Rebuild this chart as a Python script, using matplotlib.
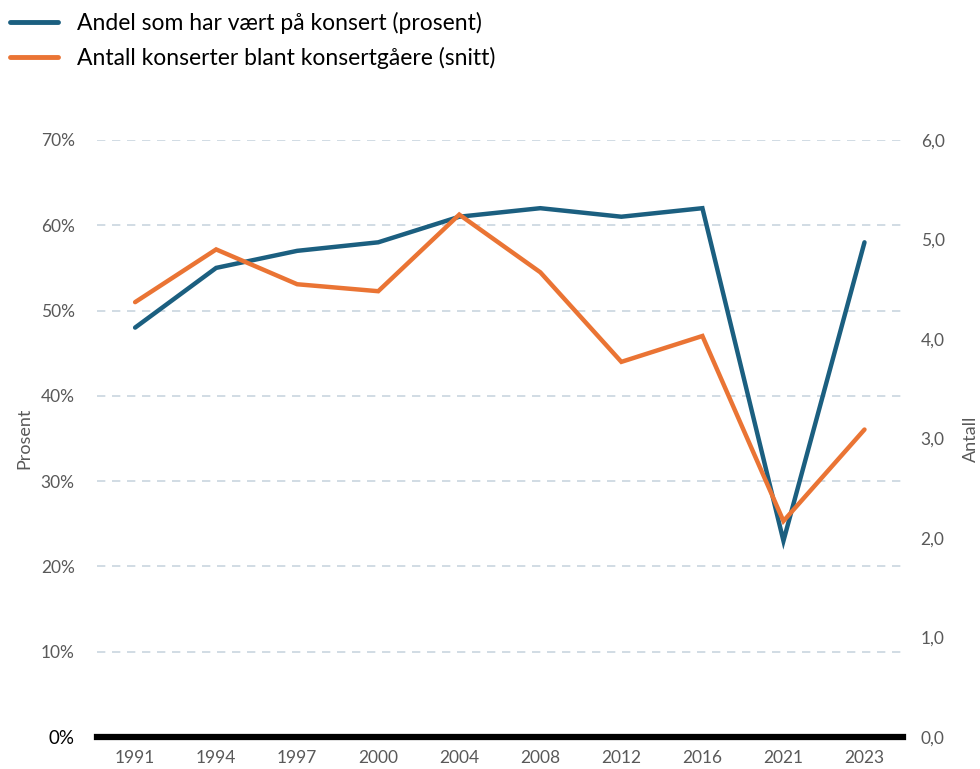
import numpy as np
import matplotlib.pyplot as plt
from matplotlib.lines import Line2D

plt.rcParams['font.family'] = ['Lato', 'DejaVu Sans']

years = ['1991', '1994', '1997', '2000', '2004', '2008', '2012', '2016', '2021', '2023']
andel = [48, 55, 57, 58, 61, 62, 61, 62, 23, 58]  # prosent
antall = [4.37, 4.90, 4.55, 4.48, 5.25, 4.67, 3.77, 4.03, 2.17, 3.09]  # snitt

blue = '#1b5f80'
orange = '#ea7434'
grey = '#595959'

x = np.arange(len(years))

fig = plt.figure(figsize=(9.8, 7.69), dpi=100)
ax = fig.add_axes([0.099, 0.0416, 0.822, 0.7764])
ax2 = ax.twinx()

ax.plot(x, andel, color=blue, lw=3.2, solid_capstyle='round', solid_joinstyle='miter')
ax2.plot(x, antall, color=orange, lw=3.2, solid_capstyle='round', solid_joinstyle='miter')

ax.set_xlim(-0.47, 9.47)
ax.set_ylim(0, 70)
ax2.set_ylim(0, 6)

ax.set_yticks(np.arange(0, 71, 10))
ax.set_yticklabels([f'{v}%' for v in range(0, 71, 10)])
ax2.set_yticks(np.arange(0, 7, 1))
ax2.set_yticklabels([f'{v},0' for v in range(0, 7)])
ax.set_xticks(x)
ax.set_xticklabels(years)

for a in (ax, ax2):
    for s in ['top', 'left', 'right', 'bottom']:
        a.spines[s].set_visible(False)
ax.axhline(0, color='black', lw=4.5, zorder=5, clip_on=False)

ax.grid(axis='y', color='#c9d6df', lw=1.2, ls=(0, (5, 4)))
ax.set_axisbelow(True)

ax.tick_params(axis='both', length=0, colors=grey, labelsize=12.5)
ax.tick_params(axis='x', pad=9)
ax.tick_params(axis='y', pad=16)
ax2.tick_params(axis='y', length=0, colors=grey, labelsize=12.5, pad=13)
lbl0 = ax.get_yticklabels()[0]
lbl0.set_color('black')
lbl0.set_fontsize(13.5)

ax.set_ylabel('Prosent', color=grey, fontsize=13, labelpad=6)
ax2.set_ylabel('Antall', color=grey, fontsize=13, labelpad=13)

handles = [Line2D([], [], color=blue, lw=3.5, solid_capstyle='round'),
           Line2D([], [], color=orange, lw=3.5, solid_capstyle='round')]
fig.legend(handles, ['Andel som har vært på konsert (prosent)',
                     'Antall konserter blant konsertgåere (snitt)'],
           loc='upper left', bbox_to_anchor=(-0.009, 1.008), frameon=False,
           fontsize=16.5, handlelength=2.1, handletextpad=0.85, labelspacing=0.55,
           borderpad=0.3)

fig.savefig('out.png', dpi=100)
